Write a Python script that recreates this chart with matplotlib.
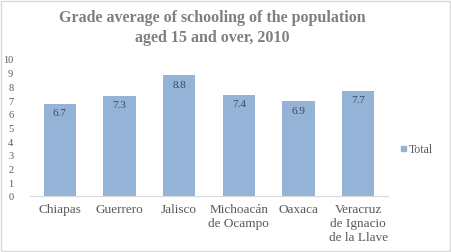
import numpy as np
import matplotlib.pyplot as plt
from matplotlib.patches import Rectangle

states = ["Chiapas", "Guerrero", "Jalisco", "Michoacán\nde Ocampo", "Oaxaca",
          "Veracruz\nde Ignacio\nde la Llave"]
values = [6.7, 7.3, 8.8, 7.4, 6.9, 7.7]
y_ticks = list(range(0, 11))

plt.rcParams['font.family'] = ['Liberation Serif', 'DejaVu Serif']

fig = plt.figure(figsize=(4.51, 2.53), dpi=100)
ax = fig.add_axes([30 / 451, 1 - 197 / 253, (388 - 30) / 451, (197 - 60) / 253])

bar_color = '#95b3d7'
x = np.arange(len(states))
bars = ax.bar(x, values, width=0.54, color=bar_color, label='Total')

for xi, v in zip(x, values):
    ax.text(xi, v - 0.3, f"{v}", ha='center', va='top', fontsize=8, color='#3a4a66')

ax.set_xlim(-0.5, len(states) - 0.5)
ax.set_ylim(0, 10)
ax.set_yticks(y_ticks)
ax.set_yticklabels([str(t) for t in y_ticks], fontsize=7.5, color='#595959')
ax.set_xticks(x)
ax.set_xticklabels(states, fontsize=9.5, color='#595959', linespacing=1.2)
ax.tick_params(axis='both', length=0)
ax.tick_params(axis='y', pad=12)
ax.tick_params(axis='x', pad=5)

for s in ['top', 'right', 'left']:
    ax.spines[s].set_visible(False)
ax.spines['bottom'].set_color('#d9d9d9')

fig.text(212 / 451, 1 - 18 / 253, "Grade average of schooling of the population",
         ha='center', va='center', fontsize=11.5, fontweight='bold', color='#7f7f7f')
fig.text(212 / 451, 1 - 38 / 253, "aged 15 and over, 2010",
         ha='center', va='center', fontsize=11.5, fontweight='bold', color='#7f7f7f')

# legend
fig.patches.append(Rectangle((401 / 451, 1 - 152 / 253), 5 / 451, 5 / 253,
                             transform=fig.transFigure, color=bar_color))
fig.text(409 / 451, 1 - 150 / 253, "Total", ha='left', va='center',
         fontsize=8.5, color='#595959')

# border
fig.patches.append(Rectangle((0.002, 0.004), 0.995, 0.99, transform=fig.transFigure,
                             fill=False, edgecolor='#d9d9d9', linewidth=1))

fig.savefig("out.png", dpi=100)
